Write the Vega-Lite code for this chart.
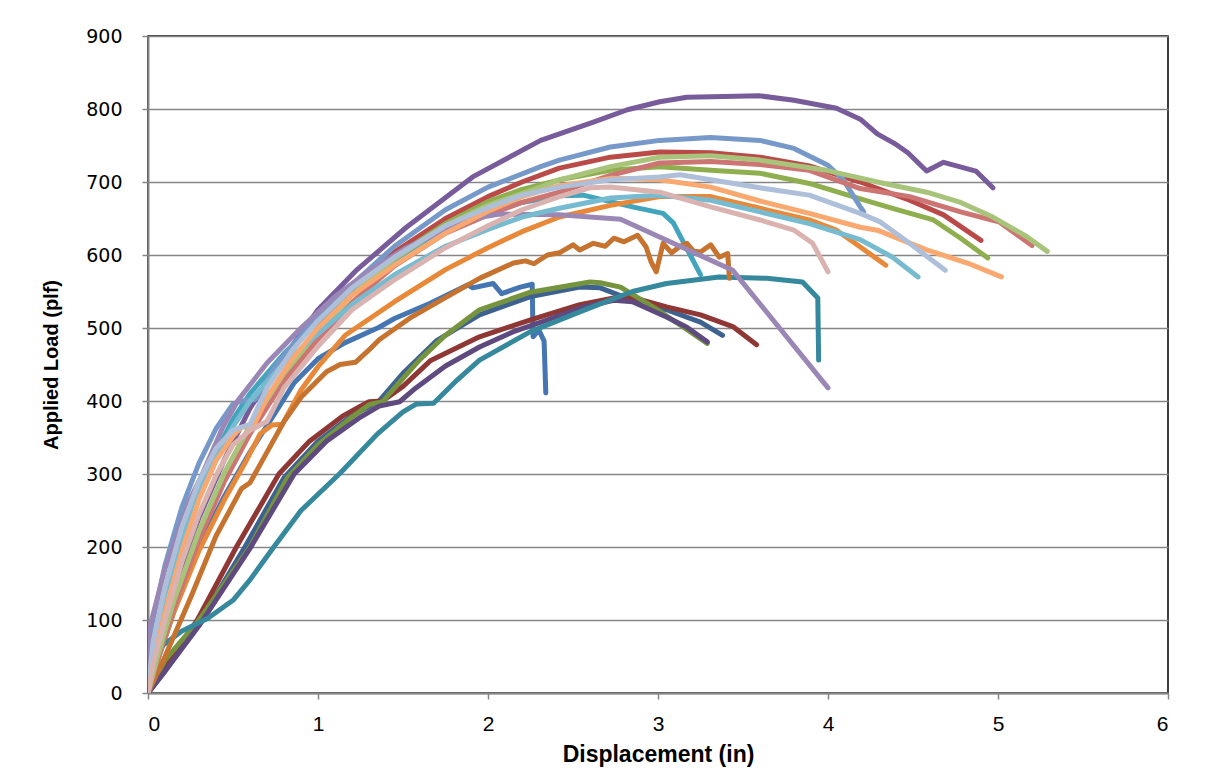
{
"$schema": "https://vega.github.io/schema/vega-lite/v6.json",
"autosize": {"type": "none"},
"padding": {"left": 148, "top": 36, "right": 51, "bottom": 81},
"width": 1020,
"height": 657,
"background": "white",
"config": {"view": {"stroke": "#000000", "strokeWidth": 1.5}},
"data": {"values": [
{"s":"s01","x":0,"y":0},{"s":"s01","x":0.05,"y":40},{"s":"s01","x":0.15,"y":110},{"s":"s01","x":0.3,"y":200},{"s":"s01","x":0.45,"y":270},{"s":"s01","x":0.6,"y":330},{"s":"s01","x":0.76,"y":388},{"s":"s01","x":0.86,"y":425},{"s":"s01","x":1.0,"y":458},{"s":"s01","x":1.16,"y":480},{"s":"s01","x":1.36,"y":501},{"s":"s01","x":1.45,"y":513},{"s":"s01","x":1.66,"y":534},{"s":"s01","x":1.88,"y":559},{"s":"s01","x":1.91,"y":555},{"s":"s01","x":2.03,"y":561},{"s":"s01","x":2.08,"y":547},{"s":"s01","x":2.19,"y":556},{"s":"s01","x":2.26,"y":560},{"s":"s01","x":2.265,"y":488},{"s":"s01","x":2.3,"y":497},{"s":"s01","x":2.33,"y":482},{"s":"s01","x":2.34,"y":411},
{"s":"s02","x":0,"y":0},{"s":"s02","x":0.05,"y":45},{"s":"s02","x":0.15,"y":125},{"s":"s02","x":0.3,"y":220},{"s":"s02","x":0.45,"y":300},{"s":"s02","x":0.6,"y":365},{"s":"s02","x":0.8,"y":440},{"s":"s02","x":1.0,"y":500},{"s":"s02","x":1.2,"y":552},{"s":"s02","x":1.45,"y":604},{"s":"s02","x":1.75,"y":650},{"s":"s02","x":2.0,"y":680},{"s":"s02","x":2.2,"y":700},{"s":"s02","x":2.42,"y":719},{"s":"s02","x":2.72,"y":734},{"s":"s02","x":3.01,"y":741},{"s":"s02","x":3.31,"y":740},{"s":"s02","x":3.6,"y":734},{"s":"s02","x":3.89,"y":722},{"s":"s02","x":4.19,"y":700},{"s":"s02","x":4.48,"y":675},{"s":"s02","x":4.68,"y":655},{"s":"s02","x":4.9,"y":620},
{"s":"s03","x":0,"y":0},{"s":"s03","x":0.05,"y":45},{"s":"s03","x":0.15,"y":125},{"s":"s03","x":0.3,"y":218},{"s":"s03","x":0.45,"y":298},{"s":"s03","x":0.6,"y":362},{"s":"s03","x":0.8,"y":435},{"s":"s03","x":1.0,"y":495},{"s":"s03","x":1.2,"y":547},{"s":"s03","x":1.45,"y":597},{"s":"s03","x":1.75,"y":643},{"s":"s03","x":2.0,"y":673},{"s":"s03","x":2.2,"y":690},{"s":"s03","x":2.42,"y":703},{"s":"s03","x":2.72,"y":716},{"s":"s03","x":3.01,"y":721},{"s":"s03","x":3.31,"y":716},{"s":"s03","x":3.6,"y":712},{"s":"s03","x":3.89,"y":698},{"s":"s03","x":4.19,"y":677},{"s":"s03","x":4.38,"y":664},{"s":"s03","x":4.62,"y":648},{"s":"s03","x":4.78,"y":623},{"s":"s03","x":4.94,"y":596},
{"s":"s04","x":0,"y":0},{"s":"s04","x":0.05,"y":55},{"s":"s04","x":0.15,"y":140},{"s":"s04","x":0.3,"y":240},{"s":"s04","x":0.45,"y":320},{"s":"s04","x":0.6,"y":390},{"s":"s04","x":0.8,"y":460},{"s":"s04","x":1.0,"y":525},{"s":"s04","x":1.23,"y":580},{"s":"s04","x":1.52,"y":638},{"s":"s04","x":1.91,"y":707},{"s":"s04","x":2.31,"y":757},{"s":"s04","x":2.62,"y":782},{"s":"s04","x":2.82,"y":799},{"s":"s04","x":3.01,"y":810},{"s":"s04","x":3.17,"y":816},{"s":"s04","x":3.6,"y":818},{"s":"s04","x":3.8,"y":812},{"s":"s04","x":4.05,"y":801},{"s":"s04","x":4.19,"y":786},{"s":"s04","x":4.29,"y":766},{"s":"s04","x":4.39,"y":753},{"s":"s04","x":4.47,"y":740},{"s":"s04","x":4.58,"y":715},{"s":"s04","x":4.68,"y":727},{"s":"s04","x":4.87,"y":715},{"s":"s04","x":4.97,"y":692},
{"s":"s05","x":0,"y":0},{"s":"s05","x":0.03,"y":60},{"s":"s05","x":0.1,"y":140},{"s":"s05","x":0.2,"y":220},{"s":"s05","x":0.3,"y":280},{"s":"s05","x":0.4,"y":330},{"s":"s05","x":0.5,"y":375},{"s":"s05","x":0.6,"y":410},{"s":"s05","x":0.8,"y":465},{"s":"s05","x":1.0,"y":510},{"s":"s05","x":1.2,"y":550},{"s":"s05","x":1.45,"y":592},{"s":"s05","x":1.75,"y":632},{"s":"s05","x":2.0,"y":657},{"s":"s05","x":2.2,"y":672},{"s":"s05","x":2.42,"y":681},{"s":"s05","x":2.56,"y":682},{"s":"s05","x":2.85,"y":666},{"s":"s05","x":3.03,"y":657},{"s":"s05","x":3.09,"y":644},{"s":"s05","x":3.25,"y":573},
{"s":"s06","x":0,"y":0},{"s":"s06","x":0.05,"y":40},{"s":"s06","x":0.15,"y":110},{"s":"s06","x":0.3,"y":195},{"s":"s06","x":0.45,"y":265},{"s":"s06","x":0.57,"y":315},{"s":"s06","x":0.66,"y":355},{"s":"s06","x":0.73,"y":367},{"s":"s06","x":0.79,"y":368},{"s":"s06","x":0.9,"y":415},{"s":"s06","x":1.0,"y":447},{"s":"s06","x":1.16,"y":490},{"s":"s06","x":1.45,"y":536},{"s":"s06","x":1.75,"y":580},{"s":"s06","x":2.0,"y":610},{"s":"s06","x":2.2,"y":632},{"s":"s06","x":2.42,"y":652},{"s":"s06","x":2.72,"y":668},{"s":"s06","x":3.01,"y":680},{"s":"s06","x":3.31,"y":680},{"s":"s06","x":3.6,"y":664},{"s":"s06","x":3.89,"y":648},{"s":"s06","x":4.05,"y":634},{"s":"s06","x":4.19,"y":611},{"s":"s06","x":4.34,"y":586},
{"s":"s07","x":0,"y":0},{"s":"s07","x":0.1,"y":30},{"s":"s07","x":0.3,"y":95},{"s":"s07","x":0.57,"y":200},{"s":"s07","x":0.8,"y":295},{"s":"s07","x":1.0,"y":345},{"s":"s07","x":1.2,"y":380},{"s":"s07","x":1.36,"y":400},{"s":"s07","x":1.5,"y":438},{"s":"s07","x":1.7,"y":483},{"s":"s07","x":1.95,"y":518},{"s":"s07","x":2.25,"y":543},{"s":"s07","x":2.54,"y":556},{"s":"s07","x":2.66,"y":555},{"s":"s07","x":2.85,"y":538},{"s":"s07","x":3.05,"y":525},{"s":"s07","x":3.25,"y":508},{"s":"s07","x":3.38,"y":490},
{"s":"s08","x":0,"y":0},{"s":"s08","x":0.1,"y":35},{"s":"s08","x":0.29,"y":100},{"s":"s08","x":0.52,"y":200},{"s":"s08","x":0.77,"y":300},{"s":"s08","x":0.95,"y":345},{"s":"s08","x":1.15,"y":380},{"s":"s08","x":1.25,"y":393},{"s":"s08","x":1.3,"y":399},{"s":"s08","x":1.38,"y":400},{"s":"s08","x":1.5,"y":420},{"s":"s08","x":1.66,"y":455},{"s":"s08","x":1.95,"y":488},{"s":"s08","x":2.25,"y":511},{"s":"s08","x":2.54,"y":532},{"s":"s08","x":2.74,"y":541},{"s":"s08","x":2.85,"y":542},{"s":"s08","x":3.05,"y":529},{"s":"s08","x":3.25,"y":518},{"s":"s08","x":3.44,"y":502},{"s":"s08","x":3.58,"y":477},
{"s":"s09","x":0,"y":0},{"s":"s09","x":0.1,"y":45},{"s":"s09","x":0.3,"y":100},{"s":"s09","x":0.6,"y":200},{"s":"s09","x":0.82,"y":295},{"s":"s09","x":1.0,"y":340},{"s":"s09","x":1.2,"y":378},{"s":"s09","x":1.3,"y":395},{"s":"s09","x":1.38,"y":399},{"s":"s09","x":1.45,"y":418},{"s":"s09","x":1.6,"y":457},{"s":"s09","x":1.75,"y":490},{"s":"s09","x":1.95,"y":525},{"s":"s09","x":2.25,"y":549},{"s":"s09","x":2.6,"y":563},{"s":"s09","x":2.66,"y":562},{"s":"s09","x":2.78,"y":556},{"s":"s09","x":2.97,"y":529},{"s":"s09","x":3.15,"y":501},{"s":"s09","x":3.29,"y":479},
{"s":"s10","x":0,"y":0},{"s":"s10","x":0.1,"y":30},{"s":"s10","x":0.3,"y":92},{"s":"s10","x":0.6,"y":198},{"s":"s10","x":0.86,"y":300},{"s":"s10","x":1.05,"y":345},{"s":"s10","x":1.25,"y":378},{"s":"s10","x":1.36,"y":393},{"s":"s10","x":1.48,"y":399},{"s":"s10","x":1.56,"y":415},{"s":"s10","x":1.75,"y":448},{"s":"s10","x":1.95,"y":474},{"s":"s10","x":2.15,"y":495},{"s":"s10","x":2.35,"y":511},{"s":"s10","x":2.55,"y":528},{"s":"s10","x":2.74,"y":538},{"s":"s10","x":2.85,"y":536},{"s":"s10","x":3.05,"y":515},{"s":"s10","x":3.17,"y":501},{"s":"s10","x":3.29,"y":481},
{"s":"s11","x":0,"y":0},{"s":"s11","x":0.05,"y":59},{"s":"s11","x":0.2,"y":85},{"s":"s11","x":0.35,"y":102},{"s":"s11","x":0.5,"y":127},{"s":"s11","x":0.6,"y":155},{"s":"s11","x":0.74,"y":200},{"s":"s11","x":0.9,"y":250},{"s":"s11","x":1.13,"y":301},{"s":"s11","x":1.35,"y":355},{"s":"s11","x":1.5,"y":385},{"s":"s11","x":1.58,"y":396},{"s":"s11","x":1.68,"y":397},{"s":"s11","x":1.82,"y":429},{"s":"s11","x":1.95,"y":456},{"s":"s11","x":2.25,"y":495},{"s":"s11","x":2.54,"y":522},{"s":"s11","x":2.66,"y":533},{"s":"s11","x":2.85,"y":550},{"s":"s11","x":3.05,"y":561},{"s":"s11","x":3.36,"y":570},{"s":"s11","x":3.64,"y":568},{"s":"s11","x":3.85,"y":563},{"s":"s11","x":3.94,"y":541},{"s":"s11","x":3.945,"y":456},
{"s":"s12","x":0,"y":0},{"s":"s12","x":0.1,"y":50},{"s":"s12","x":0.25,"y":130},{"s":"s12","x":0.4,"y":215},{"s":"s12","x":0.55,"y":280},{"s":"s12","x":0.6,"y":288},{"s":"s12","x":0.7,"y":330},{"s":"s12","x":0.8,"y":372},{"s":"s12","x":0.9,"y":405},{"s":"s12","x":1.05,"y":440},{"s":"s12","x":1.13,"y":450},{"s":"s12","x":1.22,"y":453},{"s":"s12","x":1.3,"y":470},{"s":"s12","x":1.36,"y":484},{"s":"s12","x":1.55,"y":515},{"s":"s12","x":1.76,"y":543},{"s":"s12","x":1.95,"y":568},{"s":"s12","x":2.15,"y":589},{"s":"s12","x":2.22,"y":592},{"s":"s12","x":2.27,"y":588},{"s":"s12","x":2.35,"y":600},{"s":"s12","x":2.42,"y":603},{"s":"s12","x":2.5,"y":614},{"s":"s12","x":2.54,"y":607},{"s":"s12","x":2.62,"y":616},{"s":"s12","x":2.69,"y":612},{"s":"s12","x":2.74,"y":623},{"s":"s12","x":2.8,"y":618},{"s":"s12","x":2.88,"y":627},{"s":"s12","x":2.93,"y":611},{"s":"s12","x":2.96,"y":590},{"s":"s12","x":2.99,"y":577},{"s":"s12","x":3.03,"y":616},{"s":"s12","x":3.08,"y":603},{"s":"s12","x":3.13,"y":612},{"s":"s12","x":3.17,"y":616},{"s":"s12","x":3.21,"y":605},{"s":"s12","x":3.25,"y":604},{"s":"s12","x":3.31,"y":614},{"s":"s12","x":3.36,"y":597},{"s":"s12","x":3.41,"y":602},{"s":"s12","x":3.42,"y":568},
{"s":"s13","x":0,"y":0},{"s":"s13","x":0.02,"y":90},{"s":"s13","x":0.1,"y":175},{"s":"s13","x":0.2,"y":255},{"s":"s13","x":0.3,"y":315},{"s":"s13","x":0.4,"y":362},{"s":"s13","x":0.5,"y":396},{"s":"s13","x":0.55,"y":400},{"s":"s13","x":0.63,"y":402},{"s":"s13","x":0.75,"y":448},{"s":"s13","x":1.0,"y":518},{"s":"s13","x":1.25,"y":570},{"s":"s13","x":1.45,"y":612},{"s":"s13","x":1.75,"y":662},{"s":"s13","x":2.0,"y":693},{"s":"s13","x":2.31,"y":721},{"s":"s13","x":2.42,"y":730},{"s":"s13","x":2.72,"y":748},{"s":"s13","x":3.01,"y":757},{"s":"s13","x":3.31,"y":761},{"s":"s13","x":3.6,"y":757},{"s":"s13","x":3.8,"y":746},{"s":"s13","x":4.0,"y":723},{"s":"s13","x":4.09,"y":703},{"s":"s13","x":4.19,"y":666},{"s":"s13","x":4.21,"y":659},
{"s":"s14","x":0,"y":0},{"s":"s14","x":0.05,"y":40},{"s":"s14","x":0.15,"y":115},{"s":"s14","x":0.3,"y":210},{"s":"s14","x":0.45,"y":290},{"s":"s14","x":0.6,"y":355},{"s":"s14","x":0.8,"y":428},{"s":"s14","x":1.0,"y":485},{"s":"s14","x":1.2,"y":535},{"s":"s14","x":1.45,"y":585},{"s":"s14","x":1.75,"y":630},{"s":"s14","x":2.0,"y":655},{"s":"s14","x":2.2,"y":672},{"s":"s14","x":2.42,"y":686},{"s":"s14","x":2.72,"y":709},{"s":"s14","x":3.01,"y":726},{"s":"s14","x":3.31,"y":728},{"s":"s14","x":3.6,"y":724},{"s":"s14","x":3.89,"y":716},{"s":"s14","x":4.19,"y":691},{"s":"s14","x":4.48,"y":680},{"s":"s14","x":4.78,"y":659},{"s":"s14","x":5.01,"y":645},{"s":"s14","x":5.2,"y":613},
{"s":"s15","x":0,"y":0},{"s":"s15","x":0.05,"y":45},{"s":"s15","x":0.15,"y":125},{"s":"s15","x":0.3,"y":222},{"s":"s15","x":0.45,"y":302},{"s":"s15","x":0.6,"y":366},{"s":"s15","x":0.8,"y":438},{"s":"s15","x":1.0,"y":495},{"s":"s15","x":1.2,"y":545},{"s":"s15","x":1.45,"y":595},{"s":"s15","x":1.75,"y":640},{"s":"s15","x":2.0,"y":668},{"s":"s15","x":2.31,"y":693},{"s":"s15","x":2.42,"y":703},{"s":"s15","x":2.72,"y":721},{"s":"s15","x":3.01,"y":734},{"s":"s15","x":3.31,"y":736},{"s":"s15","x":3.6,"y":730},{"s":"s15","x":3.99,"y":716},{"s":"s15","x":4.29,"y":700},{"s":"s15","x":4.58,"y":686},{"s":"s15","x":4.78,"y":672},{"s":"s15","x":4.97,"y":652},{"s":"s15","x":5.17,"y":625},{"s":"s15","x":5.29,"y":605},
{"s":"s16","x":0,"y":0},{"s":"s16","x":0.01,"y":90},{"s":"s16","x":0.1,"y":170},{"s":"s16","x":0.24,"y":262},{"s":"s16","x":0.32,"y":300},{"s":"s16","x":0.44,"y":364},{"s":"s16","x":0.53,"y":401},{"s":"s16","x":0.7,"y":452},{"s":"s16","x":0.9,"y":500},{"s":"s16","x":1.1,"y":543},{"s":"s16","x":1.3,"y":578},{"s":"s16","x":1.52,"y":610},{"s":"s16","x":1.75,"y":635},{"s":"s16","x":1.91,"y":650},{"s":"s16","x":2.07,"y":656},{"s":"s16","x":2.42,"y":655},{"s":"s16","x":2.78,"y":649},{"s":"s16","x":3.44,"y":579},{"s":"s16","x":4.0,"y":418},
{"s":"s17","x":0,"y":0},{"s":"s17","x":0.03,"y":60},{"s":"s17","x":0.1,"y":135},{"s":"s17","x":0.2,"y":212},{"s":"s17","x":0.3,"y":275},{"s":"s17","x":0.4,"y":325},{"s":"s17","x":0.5,"y":365},{"s":"s17","x":0.6,"y":400},{"s":"s17","x":0.8,"y":452},{"s":"s17","x":1.0,"y":492},{"s":"s17","x":1.2,"y":532},{"s":"s17","x":1.45,"y":573},{"s":"s17","x":1.75,"y":612},{"s":"s17","x":2.0,"y":635},{"s":"s17","x":2.2,"y":652},{"s":"s17","x":2.42,"y":664},{"s":"s17","x":2.72,"y":678},{"s":"s17","x":3.01,"y":682},{"s":"s17","x":3.31,"y":675},{"s":"s17","x":3.6,"y":659},{"s":"s17","x":3.89,"y":643},{"s":"s17","x":4.19,"y":621},{"s":"s17","x":4.38,"y":597},{"s":"s17","x":4.53,"y":570},
{"s":"s18","x":0,"y":0},{"s":"s18","x":0.03,"y":45},{"s":"s18","x":0.1,"y":110},{"s":"s18","x":0.2,"y":195},{"s":"s18","x":0.3,"y":265},{"s":"s18","x":0.4,"y":318},{"s":"s18","x":0.5,"y":352},{"s":"s18","x":0.55,"y":364},{"s":"s18","x":0.62,"y":366},{"s":"s18","x":0.7,"y":405},{"s":"s18","x":0.85,"y":458},{"s":"s18","x":1.0,"y":500},{"s":"s18","x":1.2,"y":545},{"s":"s18","x":1.45,"y":586},{"s":"s18","x":1.75,"y":630},{"s":"s18","x":2.0,"y":660},{"s":"s18","x":2.2,"y":680},{"s":"s18","x":2.42,"y":695},{"s":"s18","x":2.72,"y":705},{"s":"s18","x":3.01,"y":703},{"s":"s18","x":3.31,"y":693},{"s":"s18","x":3.6,"y":674},{"s":"s18","x":3.89,"y":657},{"s":"s18","x":4.19,"y":638},{"s":"s18","x":4.29,"y":634},{"s":"s18","x":4.58,"y":607},{"s":"s18","x":4.82,"y":589},{"s":"s18","x":5.02,"y":570},
{"s":"s19","x":0,"y":0},{"s":"s19","x":0.03,"y":70},{"s":"s19","x":0.1,"y":145},{"s":"s19","x":0.2,"y":228},{"s":"s19","x":0.3,"y":290},{"s":"s19","x":0.4,"y":335},{"s":"s19","x":0.5,"y":360},{"s":"s19","x":0.6,"y":368},{"s":"s19","x":0.7,"y":418},{"s":"s19","x":0.85,"y":470},{"s":"s19","x":1.0,"y":510},{"s":"s19","x":1.2,"y":555},{"s":"s19","x":1.45,"y":597},{"s":"s19","x":1.75,"y":640},{"s":"s19","x":2.0,"y":665},{"s":"s19","x":2.2,"y":682},{"s":"s19","x":2.42,"y":693},{"s":"s19","x":2.72,"y":703},{"s":"s19","x":3.01,"y":707},{"s":"s19","x":3.13,"y":710},{"s":"s19","x":3.31,"y":703},{"s":"s19","x":3.6,"y":692},{"s":"s19","x":3.89,"y":682},{"s":"s19","x":4.19,"y":657},{"s":"s19","x":4.31,"y":645},{"s":"s19","x":4.48,"y":616},{"s":"s19","x":4.69,"y":579},
{"s":"s20","x":0,"y":0},{"s":"s20","x":0.03,"y":40},{"s":"s20","x":0.1,"y":100},{"s":"s20","x":0.2,"y":180},{"s":"s20","x":0.3,"y":245},{"s":"s20","x":0.4,"y":298},{"s":"s20","x":0.5,"y":340},{"s":"s20","x":0.6,"y":360},{"s":"s20","x":0.7,"y":372},{"s":"s20","x":0.8,"y":418},{"s":"s20","x":1.0,"y":475},{"s":"s20","x":1.2,"y":525},{"s":"s20","x":1.45,"y":566},{"s":"s20","x":1.75,"y":610},{"s":"s20","x":2.0,"y":640},{"s":"s20","x":2.2,"y":662},{"s":"s20","x":2.42,"y":680},{"s":"s20","x":2.6,"y":692},{"s":"s20","x":2.72,"y":693},{"s":"s20","x":3.01,"y":686},{"s":"s20","x":3.31,"y":666},{"s":"s20","x":3.6,"y":648},{"s":"s20","x":3.8,"y":634},{"s":"s20","x":3.91,"y":616},{"s":"s20","x":4.0,"y":577}
]},
"mark": {"type": "line", "strokeWidth": 5, "strokeCap": "round", "strokeJoin": "round", "clip": true},
"encoding": {
"x": {"field": "x", "type": "quantitative",
 "scale": {"domain": [0, 6], "nice": false, "zero": true},
 "axis": {"values": [0,1,2,3,4,5,6], "format": "d", "grid": false, "title": "Displacement (in)",
  "domainColor": "#868686", "domainWidth": 2, "tickColor": "#868686", "tickWidth": 1.5, "tickSize": 6,
  "labelFont": "Liberation Sans", "labelFontSize": 21, "labelColor": "#000000", "labelPadding": 14,
  "titleFont": "Liberation Sans", "titleFontSize": 23, "titleFontWeight": "bold", "titleColor": "#000000", "titlePadding": 9}},
"y": {"field": "y", "type": "quantitative",
 "scale": {"domain": [0, 900], "nice": false},
 "axis": {"values": [0,100,200,300,400,500,600,700,800,900], "format": "d", "grid": true, "gridColor": "#868686", "gridWidth": 1.5,
  "title": "Applied Load (plf)",
  "domainColor": "#868686", "domainWidth": 2, "tickColor": "#868686", "tickWidth": 1.5, "tickSize": 6,
  "labelFont": "DejaVu Sans", "labelFontSize": 19, "labelColor": "#000000", "labelPadding": 20,
  "titleFont": "Liberation Sans", "titleFontSize": 20, "titleFontWeight": "bold", "titleColor": "#000000", "titlePadding": 24}},
"color": {"field": "s", "type": "nominal", "legend": null,
 "scale": {"domain": ["s01","s02","s03","s04","s05","s06","s07","s08","s09","s10","s11","s12","s13","s14","s15","s16","s17","s18","s19","s20"],
  "range": ["#4676B2","#BA4A48","#8FAF4F","#775B9B","#42A5BD","#E8893A","#3D6290","#8F3734","#76943D","#5E4A7E","#36899C","#C5732F","#7699C9","#CC7573","#A8C47A","#9B87B6","#77BBD0","#F9A96F","#AEBFDA","#DAB3B1"]}}
}
}
